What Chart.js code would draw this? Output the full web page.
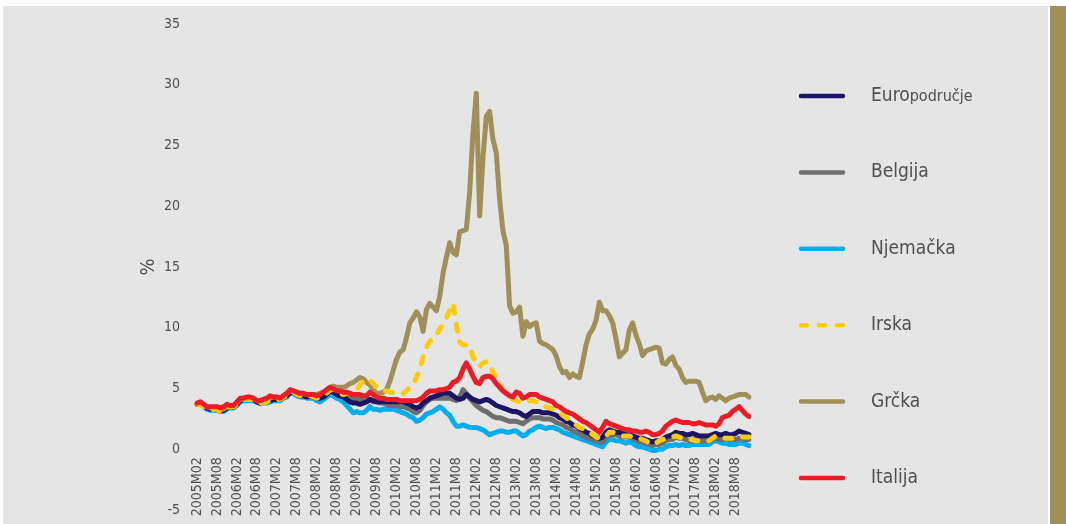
<!DOCTYPE html>
<html>
<head>
<meta charset="utf-8">
<script src="https://cdn.jsdelivr.net/npm/chart.js@4.4.1/dist/chart.umd.min.js"></script>
<style>
  html, body { margin: 0; padding: 0; background: #fff; width: 1066px; height: 524px; overflow: hidden; }
  #pozadina { position: absolute; left: 3px; top: 6px; width: 1045px; height: 518px; background: #e5e5e5; }
  #traka { position: absolute; left: 1050px; top: 6px; width: 16px; height: 518px; background: #a08f57; }
  #graf { position: absolute; left: 0; top: 0; }
</style>
</head>
<body>
<div id="pozadina"></div>
<div id="traka"></div>
<canvas id="graf" width="1066" height="524"></canvas>
<script>
// ..........PODACI (prinosi na 10-godišnje obveznice, %)..........
// mjesečno, 2005M02 - 2018M12
var mjeseci = [];
for (var g = 2005; g <= 2018; g++) {
    for (var m = (g === 2005 ? 2 : 1); m <= 12; m++) {
        mjeseci.push(g + 'M' + (m < 10 ? '0' + m : m));
    }
}

var nazivi = ['Europodručje', 'Belgija', 'Njemačka', 'Irska', 'Grčka', 'Italija'];

var europodrucje = [
    3.7, 3.8, 3.6, 3.4, 3.3, 3.3, 3.3, 3.2, 3.2, 3.4, 3.5,
    3.5, 3.7, 4.0, 4.1, 4.1, 4.1, 4.1, 3.9, 3.8, 3.9, 3.9, 4.0,
    4.1, 4.1, 4.1, 4.3, 4.4, 4.7, 4.7, 4.5, 4.4, 4.4, 4.3, 4.4,
    4.3, 4.2, 4.2, 4.3, 4.5, 4.8, 4.7, 4.5, 4.4, 4.3, 4.1, 3.9,
    3.8, 3.8, 3.7, 3.8, 3.9, 4.1, 4.0, 3.9, 3.9, 3.9, 3.9, 3.9,
    3.9, 3.9, 3.9, 3.9, 3.8, 3.7, 3.5, 3.4, 3.5, 3.8, 4.0, 4.2,
    4.3, 4.4, 4.5, 4.6, 4.6, 4.6, 4.4, 4.2, 4.1, 4.2, 4.5, 4.3,
    4.1, 4.0, 3.9, 4.0, 4.1, 4.0, 3.8, 3.6, 3.5, 3.4, 3.3, 3.2,
    3.1, 3.1, 3.0, 2.8, 2.7, 2.9, 3.1, 3.1, 3.1, 3.0, 3.0, 3.0,
    2.9, 2.8, 2.6, 2.5, 2.3, 2.2, 2.0, 1.9, 1.7, 1.6, 1.4, 1.3,
    1.1, 1.0, 0.9, 1.0, 1.4, 1.6, 1.5, 1.4, 1.4, 1.3, 1.2, 1.2,
    1.1, 1.0, 0.9, 0.9, 0.8, 0.7, 0.6, 0.7, 0.7, 0.8, 1.0, 1.1,
    1.2, 1.4, 1.3, 1.3, 1.2, 1.2, 1.3, 1.2, 1.1, 1.1, 1.1, 1.1,
    1.2, 1.3, 1.2, 1.2, 1.3, 1.2, 1.2, 1.3, 1.5, 1.4, 1.3, 1.2
];

var belgija = [
    3.7, 3.8, 3.6, 3.4, 3.3, 3.3, 3.3, 3.2, 3.2, 3.4, 3.5,
    3.5, 3.7, 4.0, 4.1, 4.1, 4.1, 4.1, 3.9, 3.8, 3.9, 3.9, 4.0,
    4.1, 4.1, 4.1, 4.3, 4.4, 4.7, 4.7, 4.5, 4.4, 4.4, 4.4, 4.4,
    4.3, 4.3, 4.3, 4.4, 4.6, 4.9, 4.8, 4.6, 4.5, 4.4, 4.3, 4.2,
    4.1, 4.2, 4.1, 4.0, 4.0, 4.1, 3.9, 3.9, 3.8, 3.8, 3.7, 3.6,
    3.6, 3.6, 3.5, 3.5, 3.4, 3.3, 3.1, 3.0, 3.2, 3.6, 3.9, 4.1,
    4.2, 4.2, 4.2, 4.2, 4.2, 4.2, 4.1, 4.0, 4.3, 4.9, 4.6, 4.2,
    3.9, 3.6, 3.4, 3.2, 3.1, 2.9, 2.7, 2.6, 2.6, 2.5, 2.4, 2.3,
    2.3, 2.3, 2.2, 2.1, 2.3, 2.5, 2.6, 2.6, 2.6, 2.5, 2.5, 2.5,
    2.4, 2.2, 2.1, 2.0, 1.8, 1.7, 1.5, 1.4, 1.3, 1.1, 1.0, 0.9,
    0.8, 0.7, 0.6, 0.6, 1.0, 1.2, 1.2, 1.2, 1.1, 1.0, 1.0, 1.0,
    0.9, 0.8, 0.6, 0.6, 0.5, 0.4, 0.3, 0.4, 0.4, 0.5, 0.7, 0.8,
    0.8, 1.0, 0.9, 0.9, 0.8, 0.7, 0.8, 0.8, 0.7, 0.7, 0.7, 0.7,
    0.8, 0.9, 0.8, 0.8, 0.9, 0.8, 0.8, 0.8, 0.9, 0.9, 0.8, 0.8
];

var njemacka = [
    3.7, 3.7, 3.5, 3.3, 3.2, 3.2, 3.2, 3.1, 3.1, 3.3, 3.4,
    3.4, 3.6, 3.9, 4.0, 4.0, 4.0, 4.0, 3.9, 3.8, 3.8, 3.8, 3.9,
    4.0, 4.0, 4.0, 4.2, 4.3, 4.6, 4.6, 4.4, 4.3, 4.3, 4.2, 4.2,
    4.2, 4.0, 3.9, 4.1, 4.3, 4.5, 4.4, 4.2, 4.1, 3.9, 3.6, 3.3,
    3.0, 3.1, 3.0, 3.0, 3.2, 3.5, 3.3, 3.3, 3.2, 3.3, 3.3, 3.3,
    3.3, 3.2, 3.1, 3.0, 2.9, 2.7, 2.6, 2.3, 2.4, 2.6, 2.9, 3.0,
    3.1, 3.3, 3.5, 3.3, 3.0, 2.8, 2.3, 1.9, 1.9, 2.0, 1.9, 1.8,
    1.8, 1.8, 1.7, 1.6, 1.4, 1.2, 1.3, 1.4, 1.5, 1.5, 1.4, 1.4,
    1.5, 1.5, 1.3, 1.1, 1.2, 1.5, 1.6, 1.8, 1.9, 1.8, 1.7, 1.8,
    1.8, 1.7, 1.6, 1.4, 1.3, 1.2, 1.1, 1.0, 0.9, 0.8, 0.7, 0.6,
    0.5, 0.4, 0.3, 0.2, 0.6, 0.8, 0.8, 0.7, 0.7, 0.6, 0.5, 0.6,
    0.5, 0.3, 0.2, 0.2, 0.1, 0.0, -0.1, -0.1, 0.0, 0.0, 0.2, 0.3,
    0.3, 0.4, 0.3, 0.4, 0.3, 0.3, 0.4, 0.4, 0.4, 0.4, 0.4, 0.4,
    0.6, 0.7, 0.6, 0.5, 0.5, 0.4, 0.4, 0.4, 0.5, 0.5, 0.4, 0.3
];

var irska = [
    3.7, 3.7, 3.5, 3.3, 3.2, 3.3, 3.3, 3.1, 3.2, 3.4, 3.5,
    3.5, 3.7, 4.0, 4.1, 4.1, 4.1, 4.1, 3.9, 3.8, 3.8, 3.9, 4.0,
    4.1, 4.1, 4.1, 4.3, 4.4, 4.7, 4.7, 4.5, 4.4, 4.4, 4.3, 4.4,
    4.3, 4.2, 4.3, 4.5, 4.6, 4.9, 4.9, 4.8, 4.6, 4.5, 4.6, 4.6,
    4.7, 4.9, 5.3, 5.6, 5.8, 5.7, 5.4, 5.1, 4.9, 4.8, 4.8, 4.7,
    4.7, 4.7, 4.7, 4.6, 4.8, 5.1, 5.3, 5.9, 6.6, 7.6, 8.4, 8.9,
    9.1, 9.4, 9.9, 10.3, 10.8, 11.5, 12.0, 10.2, 8.8, 8.6, 8.6, 8.5,
    7.6, 7.0, 6.8, 7.1, 7.2, 7.1, 6.3, 5.9, 5.3, 4.9, 4.6, 4.3,
    4.1, 4.0, 3.9, 3.9, 3.9, 4.0, 4.0, 3.9, 3.7, 3.6, 3.5, 3.4,
    3.3, 3.1, 3.0, 2.8, 2.6, 2.4, 2.2, 2.0, 1.8, 1.7, 1.6, 1.4,
    1.2, 1.0, 0.9, 0.9, 1.1, 1.4, 1.4, 1.3, 1.2, 1.1, 1.1, 1.1,
    1.0, 0.9, 0.9, 0.8, 0.7, 0.5, 0.4, 0.5, 0.7, 0.8, 0.9, 1.0,
    1.0, 1.1, 1.0, 0.9, 0.8, 0.8, 0.8, 0.7, 0.7, 0.7, 0.7, 0.7,
    0.9, 1.1, 1.0, 1.0, 0.9, 0.9, 0.9, 0.9, 1.0, 1.0, 1.0, 1.0
];

var grcka = [
    3.7, 3.8, 3.6, 3.5, 3.4, 3.4, 3.5, 3.3, 3.3, 3.5, 3.6,
    3.6, 3.8, 4.1, 4.2, 4.2, 4.2, 4.2, 4.0, 3.9, 4.0, 4.1, 4.2,
    4.3, 4.3, 4.2, 4.4, 4.6, 4.8, 4.8, 4.6, 4.6, 4.6, 4.5, 4.5,
    4.5, 4.5, 4.6, 4.7, 4.9, 5.1, 5.2, 5.1, 5.1, 5.1, 5.2, 5.4,
    5.5, 5.7, 5.9, 5.8, 5.5, 5.3, 4.9, 4.6, 4.6, 4.7, 4.9, 5.6,
    6.5, 7.4, 8.0, 8.2, 9.2, 10.4, 10.8, 11.3, 10.9, 9.7, 11.5, 12.0,
    11.7, 11.4, 12.6, 14.5, 15.8, 17.0, 16.2, 16.0, 17.9, 18.0, 18.1, 21.2,
    26.1, 29.3, 19.2, 24.0, 27.4, 27.8, 25.5, 24.4, 20.6, 18.0, 16.8, 11.8,
    11.2, 11.3, 11.7, 9.3, 10.5, 10.1, 10.3, 10.4, 8.9, 8.7, 8.6, 8.4,
    8.2, 7.7, 6.8, 6.3, 6.4, 5.9, 6.2, 6.0, 5.9, 7.2, 8.6, 9.5,
    9.9, 10.6, 12.1, 11.4, 11.4, 11.0, 10.4, 9.1, 7.6, 7.9, 8.2, 9.8,
    10.4, 9.4, 8.7, 7.7, 8.1, 8.2, 8.3, 8.4, 8.3, 7.1, 7.0, 7.4,
    7.6, 6.9, 6.6, 5.9, 5.5, 5.6, 5.6, 5.6, 5.5, 4.7, 4.0, 4.2,
    4.3, 4.1, 4.4, 4.2, 4.0, 4.2, 4.3, 4.4, 4.5, 4.5, 4.5, 4.3
];

var italija = [
    3.8, 3.9, 3.7, 3.5, 3.5, 3.5, 3.5, 3.4, 3.5, 3.7, 3.6,
    3.6, 3.9, 4.2, 4.2, 4.3, 4.3, 4.2, 4.0, 4.0, 4.1, 4.2, 4.4,
    4.3, 4.3, 4.2, 4.4, 4.6, 4.9, 4.8, 4.7, 4.6, 4.6, 4.5, 4.5,
    4.5, 4.4, 4.5, 4.7, 4.9, 5.1, 5.0, 4.8, 4.8, 4.7, 4.7, 4.6,
    4.5, 4.5, 4.5, 4.4, 4.4, 4.7, 4.5, 4.3, 4.2, 4.2, 4.1, 4.1,
    4.1, 4.1, 4.0, 4.0, 4.0, 4.0, 4.0, 4.0, 4.1, 4.3, 4.6, 4.8,
    4.8, 4.8, 4.9, 4.9, 5.0, 5.1, 5.5, 5.6, 5.9, 6.6, 7.1, 6.6,
    6.0, 5.5, 5.4, 5.9, 6.0, 6.0, 5.8, 5.4, 5.1, 4.8, 4.6, 4.4,
    4.3, 4.7, 4.6, 4.2, 4.3, 4.5, 4.5, 4.5, 4.3, 4.2, 4.1, 4.0,
    3.9, 3.6, 3.5, 3.3, 3.1, 3.0, 2.9, 2.7, 2.5, 2.3, 2.2, 2.0,
    1.8, 1.6, 1.4, 1.8, 2.3, 2.1, 2.0, 1.9, 1.8, 1.7, 1.6, 1.6,
    1.5, 1.5, 1.4, 1.4, 1.5, 1.4, 1.2, 1.2, 1.3, 1.5, 1.9, 2.1,
    2.3, 2.4, 2.3, 2.2, 2.2, 2.2, 2.1, 2.1, 2.2, 2.1, 2.0, 2.0,
    2.0, 1.9, 2.1, 2.6, 2.7, 2.8, 3.1, 3.3, 3.5, 3.2, 2.9, 2.7
];

var boje = ['#1c1563', '#6e6e70', '#00aeef', '#ffcb05', '#a08f57', '#ed1c24'];

var FONT = '"DejaVu Sans Condensed", "Liberation Sans Narrow", "DejaVu Sans", sans-serif';
var SIVA = '#4f4f4f';

// ..........LEGENDA DESNO (crtica + naziv)..........
var legendaDesno = {
    id: 'legendaDesno',
    afterDraw: function (chart) {
        var ctx = chart.ctx;
        var x0 = chart.chartArea.right + 50;
        chart.data.datasets.forEach(function (ds, i) {
            var y = 96 + i * 76.4;
            ctx.save();
            ctx.strokeStyle = ds.borderColor;
            ctx.lineWidth = 4.5;
            ctx.lineCap = 'round';
            ctx.beginPath();
            if (ds.borderDash) {
                ctx.setLineDash([6, 12]);
            }
            ctx.moveTo(x0 + 2, y);
            ctx.lineTo(x0 + 44, y);
            ctx.stroke();
            ctx.setLineDash([]);
            ctx.fillStyle = SIVA;
            ctx.textBaseline = 'middle';
            ctx.textAlign = 'left';
            var tekst = ds.label;
            var tx = x0 + 72;
            if (tekst.indexOf('Euro') === 0) {
                // "Euro" je u izvorniku krupnije od ostatka riječi
                ctx.font = '19px ' + FONT;
                ctx.fillText('Euro', tx, y);
                var w = ctx.measureText('Euro').width;
                ctx.font = '16px ' + FONT;
                ctx.fillText(tekst.slice(4), tx + w, y + 1);
            } else {
                ctx.font = '19px ' + FONT;
                ctx.fillText(tekst, tx, y);
            }
            ctx.restore();
        });
    }
};

var serije = [europodrucje, belgija, njemacka, irska, grcka, italija];
// redoslijed crtanja: Italija na vrhu, Njemačka na dnu
var redoslijed = [3, 4, 5, 1, 2, 0];

var ctx = document.getElementById('graf').getContext('2d');
var chart = new Chart(ctx, {
    type: 'line',
    data: {
        labels: mjeseci,
        datasets: serije.map(function (s, i) {
            return {
                label: nazivi[i],
                data: s,
                borderColor: boje[i],
                backgroundColor: boje[i],
                borderWidth: 5,
                borderCapStyle: 'round',
                borderJoinStyle: 'round',
                borderDash: nazivi[i] === 'Irska' ? [7, 11] : undefined,
                pointRadius: 0,
                tension: 0,
                fill: false,
                order: redoslijed[i]
            };
        })
    },
    options: {
        responsive: false,
        animation: false,
        layout: { padding: { left: 133, top: 24, right: 317, bottom: 14 } },
        plugins: {
            legend: { display: false },
            tooltip: { enabled: false }
        },
        scales: {
            x: {
                axis: 'x',
                type: 'category',
                position: { y: 0 },
                grid: { display: false, drawTicks: false },
                border: { display: false },
                ticks: {
                    autoSkip: false,
                    minRotation: 90,
                    maxRotation: 90,
                    padding: 8,
                    color: SIVA,
                    font: { family: FONT, size: 14 },
                    callback: function (v, i) {
                        return i % 6 === 0 ? this.getLabelForValue(v) : '';
                    }
                },
                afterFit: function (s) {
                    s.height = 0;
                    s.paddingLeft = 0;
                    s.paddingRight = 0;
                }
            },
            y: {
                min: -5,
                max: 35,
                grid: { display: false, drawTicks: false },
                border: { display: false },
                ticks: {
                    stepSize: 5,
                    padding: 17,
                    color: SIVA,
                    font: { family: FONT, size: 14 }
                },
                title: {
                    display: true,
                    text: '%',
                    color: SIVA,
                    font: { family: FONT, size: 20 }
                },
                afterFit: function (s) {
                    s.width = 64;
                    s.paddingTop = 0;
                    s.paddingBottom = 0;
                }
            }
        }
    },
    plugins: [legendaDesno]
});
</script>
</body>
</html>
